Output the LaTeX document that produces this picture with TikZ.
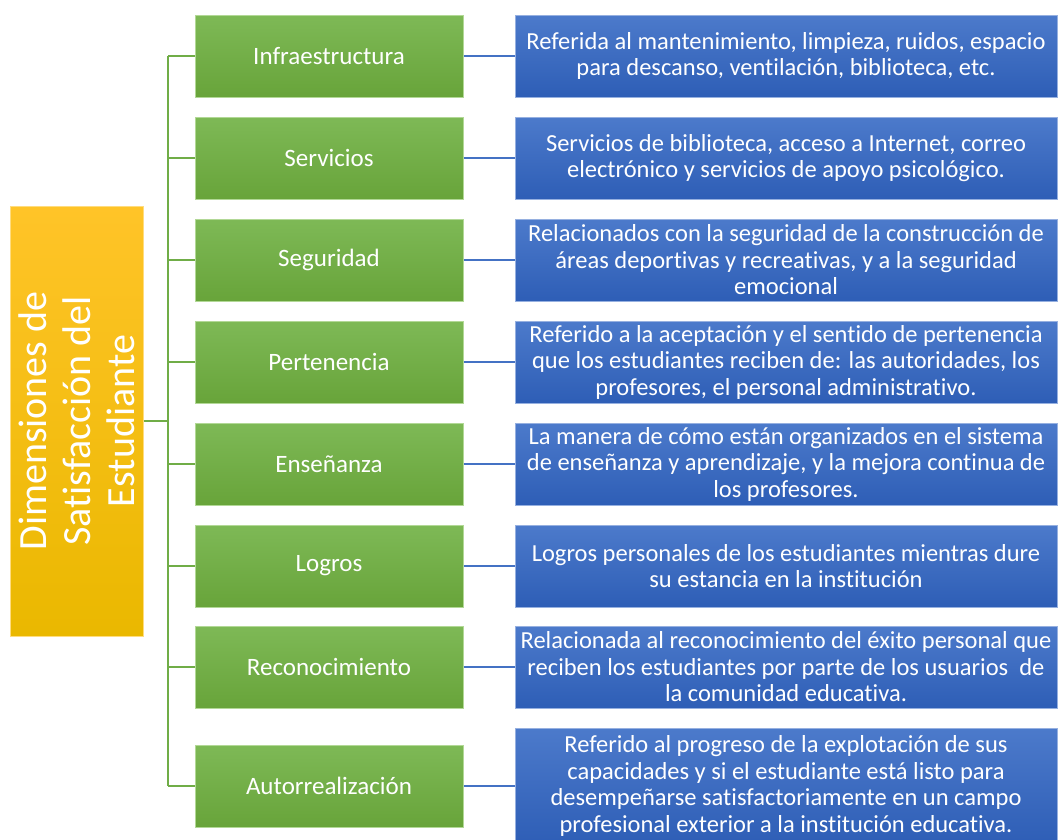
\documentclass[tikz,border=0pt]{standalone}
\usepackage{fontspec}
\setmainfont{Carlito}[Ligatures=NoCommon]
\usetikzlibrary{positioning}

\definecolor{verde}{RGB}{112,173,71}
\definecolor{verdeclaro}{RGB}{126,185,86}
\definecolor{verdeosc}{RGB}{104,164,58}
\definecolor{verdeborde}{RGB}{178,216,150}
\definecolor{azul}{RGB}{68,114,196}
\definecolor{azulclaro}{RGB}{76,122,203}
\definecolor{azulosc}{RGB}{46,94,182}
\definecolor{azulborde}{RGB}{150,176,224}
\definecolor{oro}{RGB}{255,196,40}
\definecolor{orosc}{RGB}{234,184,0}

\begin{document}
\begin{tikzpicture}
	[x=1pt,y=-1pt,
	raiz/.style={rectangle, draw=oro!60, line width=1pt, top color=oro, bottom color=orosc,
		minimum width=430pt, minimum height=133pt, rotate=90, align=center, text=white,
		font=\fontsize{40}{44}\selectfont},
	dim/.style={rectangle, draw=verdeborde, line width=1pt, top color=verdeclaro, bottom color=verdeosc,
		minimum width=268pt, minimum height=82pt, text=white, font=\fontsize{25}{26}\selectfont},
	desc/.style={rectangle, draw=azulborde, line width=1pt, top color=azulclaro, bottom color=azulosc,
		minimum width=542pt, minimum height=82pt, align=center, text=white,
		font=\fontsize{24.5}{26.5}\selectfont},
	rama/.style={draw=verde, line width=2pt},
	enlace/.style={draw=azul, line width=2pt}]
	\useasboundingbox (0,0) rectangle (1059,839);
	
	\node[raiz] (d) at (76.5,421) {Dimensiones de\\Satisfacción del\\Estudiante};
	
	\node[dim] (g1) at (329,56)  {Infraestructura};
	\node[dim] (g2) at (329,158) {Servicios};
	\node[dim] (g3) at (329,260) {Seguridad};
	\node[dim] (g4) at (329,362) {Pertenencia};
	\node[dim] (g5) at (329,464) {Enseñanza};
	\node[dim] (g6) at (329,566) {Logros};
	\node[dim] (g7) at (329,667) {Reconocimiento};
	\node[dim] (g8) at (329,786) {Autorrealización};
	
	\node[desc] (b1) at (786,56)  {Referida al mantenimiento, limpieza, ruidos, espacio\\para descanso, ventilación, biblioteca, etc.};
	\node[desc] (b2) at (786,158) {Servicios de biblioteca, acceso a Internet, correo\\electrónico y servicios de apoyo psicológico.};
	\node[desc] (b3) at (786,260) {Relacionados con la seguridad de la construcción de\\áreas deportivas y recreativas, y a la seguridad\\emocional};
	\node[desc] (b4) at (786,362) {Referido a la aceptación y el sentido de pertenencia\\que los estudiantes reciben de: las autoridades, los\\profesores, el personal administrativo.};
	\node[desc] (b5) at (786,464) {La manera de cómo están organizados en el sistema\\de enseñanza y aprendizaje, y la mejora continua de\\los profesores.};
	\node[desc] (b6) at (786,566) {Logros personales de los estudiantes mientras dure\\su estancia en la institución};
	\node[desc] (b7) at (786,667) {Relacionada al reconocimiento del éxito personal que\\reciben los estudiantes por parte de los usuarios \ de\\la comunidad educativa.};
	\node[desc, minimum height=116pt] (b8) at (786,786) {Referido al progreso de la explotación de sus\\capacidades y si el estudiante está listo para\\desempeñarse satisfactoriamente en un campo\\profesional exterior a la institución educativa.};
	
	\coordinate (t) at (168,421);
	\draw[rama] (d.south) -- (t);
	\draw[rama] (t |- g1) -- (t |- g8);
	\foreach \n in {g1,g2,g3,g4,g5,g6,g7,g8}
	\draw[rama] (t |- \n) -- (\n.west);
	
	\foreach \from/\to in {g1/b1,g2/b2,g3/b3,g4/b4,g5/b5,g6/b6,g7/b7,g8/b8}
	\draw[enlace] (\from) -- (\to);
\end{tikzpicture}
\end{document}
